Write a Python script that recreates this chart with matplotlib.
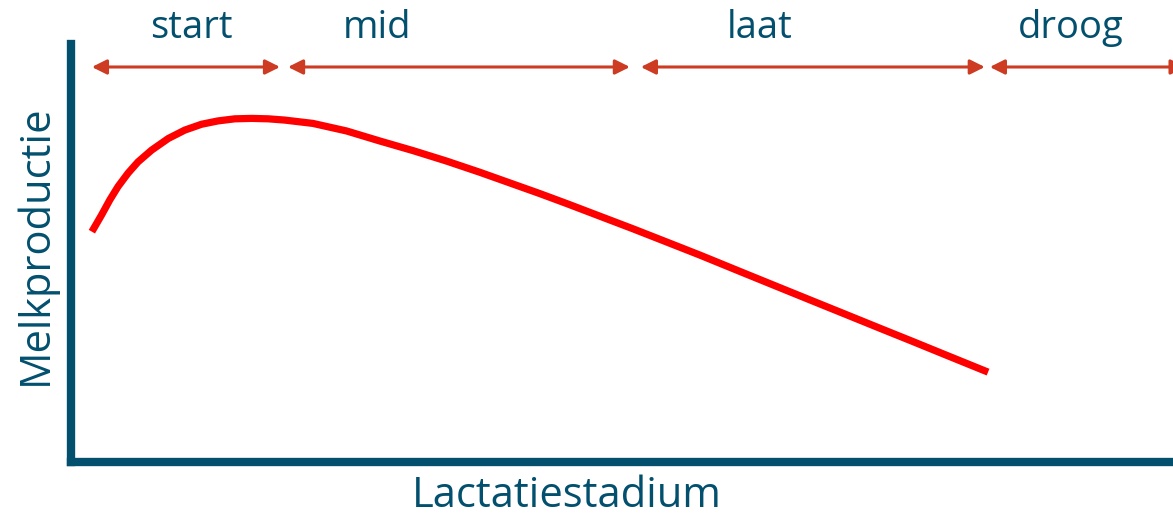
import matplotlib.pyplot as plt

# Lactatiecurve: dagen in lactatie vs. relatieve melkproductie
dagen = [0, 3.3, 6.1, 8.9, 12.3, 15.7, 20.3, 26.0, 31.6, 37.3, 42.9, 48.6, 54.3,
         60.0, 65.6, 75.2, 86.6, 97.9, 109.2, 120.6, 132.0, 143.2, 152.4, 161.6,
         172.8, 184.0, 195.6, 206.8, 222.8, 234.0, 245.2, 256.8, 268.0, 279.3,
         290.8, 304.8]
melk = [55.1, 59.1, 62.7, 65.9, 69.1, 71.8, 74.6, 77.4, 79.4, 80.8, 81.6, 82.1, 82.2,
        82.1, 81.8, 81.0, 79.2, 76.8, 74.5, 72.0, 69.3, 66.5, 64.2, 61.8,
        58.8, 55.8, 52.6, 49.5, 44.9, 41.7, 38.5, 35.2, 32.0, 28.8,
        25.5, 21.5]

# fasen (begin- en einddag) en hun namen
fasen = ['start', 'mid', 'laat', 'droog']
fase_begin = [0, 66.7, 186.7, 305.4]
fase_eind = [64, 183, 303.7, 372]
label_x = [34, 97, 227, 333]

blauw = '#02506E'
oranjerood = '#CC3B22'

plt.rcParams['font.family'] = ['Open Sans', 'DejaVu Sans']

fig = plt.figure(figsize=(11.73, 5.18), dpi=100)
ax = fig.add_axes([71 / 1173, 56 / 518, 1102 / 1173, 418 / 518])

ax.plot(dagen, melk, color='#FF0000', lw=5.2, solid_capstyle='butt',
        solid_joinstyle='round')

for naam, x0, x1, lx in zip(fasen, fase_begin, fase_eind, label_x):
    ax.annotate('', xy=(x1, 94.5), xytext=(x0, 94.5),
                arrowprops=dict(arrowstyle='<|-|>', color=oranjerood, lw=2.2,
                                mutation_scale=22, shrinkA=0, shrinkB=0),
                annotation_clip=False)
    ax.text(lx, 103.8, naam, ha='center', va='center', fontsize=27.5,
            color=blauw, clip_on=False)

ax.set_xlim(-7.1, 367.7)
ax.set_ylim(0, 100)
ax.set_xticks([])
ax.set_yticks([])
for s in ['top', 'right']:
    ax.spines[s].set_visible(False)
for s in ['left', 'bottom']:
    ax.spines[s].set_color(blauw)
    ax.spines[s].set_linewidth(6)

fig.text(567 / 1173, 1 - 496 / 518, 'Lactatiestadium', ha='center', va='center',
         fontsize=30, color=blauw)
fig.text(36 / 1173, 1 - 245 / 518, 'Melkproductie', ha='center', va='center',
         rotation=90, fontsize=30, color=blauw)

fig.savefig('out.png', dpi=100)
